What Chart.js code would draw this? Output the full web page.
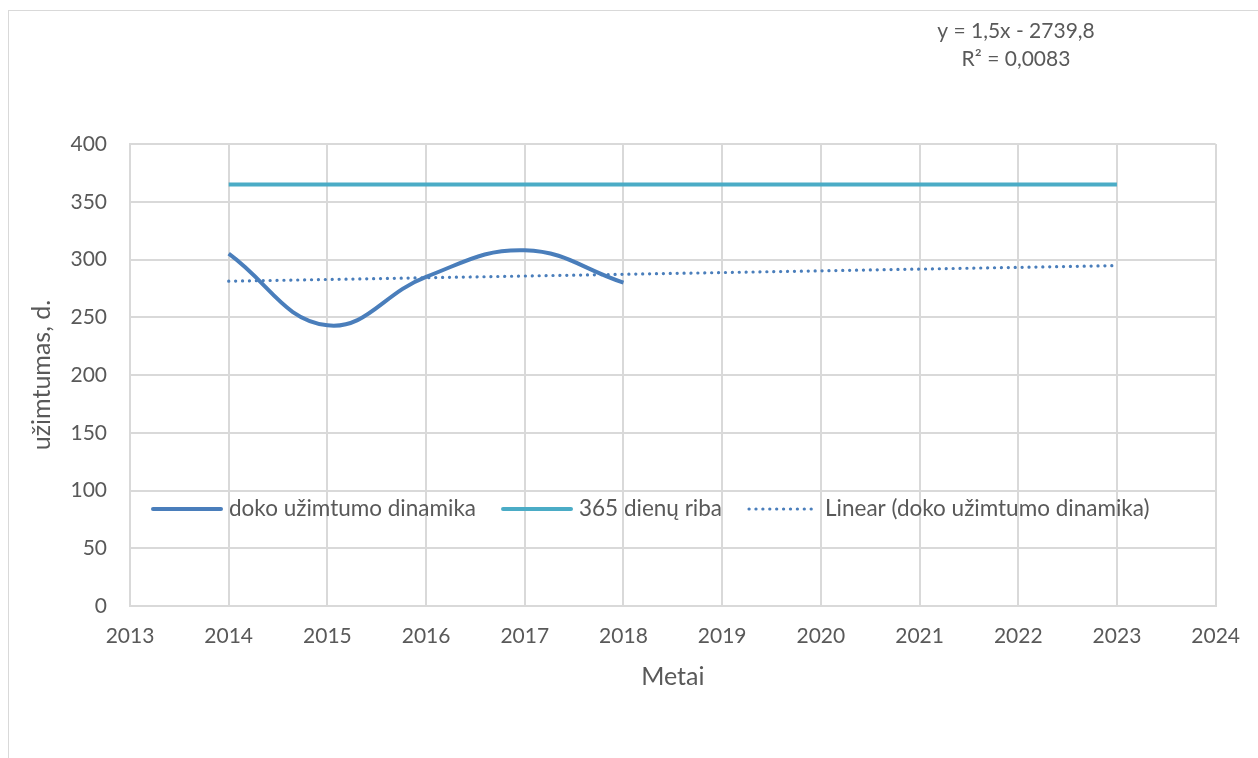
<!DOCTYPE html>
<html>
<head>
<meta charset="utf-8">
<script src="https://cdn.jsdelivr.net/npm/chart.js@4/dist/chart.umd.min.js"></script>
<style>
  html, body { margin: 0; padding: 0; background: #fff; }
  .wrap { position: relative; width: 1258px; height: 758px; overflow: hidden; }
  .frame { position: absolute; left: 8px; top: 10px; width: 1300px; height: 800px;
           border-left: 1px solid #d9d9d9; border-top: 1px solid #d9d9d9; }
  canvas { position: absolute; left: 0; top: 0; }
</style>
</head>
<body>
<div class="wrap">
  <div class="frame"></div>
  <canvas id="chart" width="1258" height="758"></canvas>
</div>
<script>
// dock occupancy per year
const years = [2014, 2015, 2016, 2017, 2018];
const occupancy = [305, 243, 285, 308, 280];

// 365 day limit line
const limitYears = [2014, 2023];
const limitValues = [365, 365];

// linear trend y = 1,5x - 2739,8 (end points)
const trendYears = [2014, 2023];
const trendValues = [281.2, 294.7];
const trendLabel = ['y = 1,5x - 2739,8', 'R² = 0,0083'];

const seriesNames = ['doko užimtumo dinamika', '365 dienų riba', 'Linear (doko užimtumo dinamika)'];

const FONT = 'Lato, "Open Sans", sans-serif';
const TEXT = '#595959';
const GRID = '#d9d9d9';

const toPoints = (xs, ys) => xs.map((x, i) => ({ x: x, y: ys[i] }));

// legend drawn inside the plot area, over the grid
const innerLegend = {
  id: 'innerLegend',
  afterDatasetsDraw(chart) {
    const ctx = chart.ctx;
    const y = chart.scales.y.getPixelForValue(84);
    let x = 153;
    ctx.save();
    ctx.font = '22.5px ' + FONT;
    ctx.textBaseline = 'middle';
    chart.data.datasets.forEach((ds) => {
      ctx.beginPath();
      ctx.strokeStyle = ds.borderColor;
      ctx.lineWidth = ds.borderWidth;
      ctx.lineCap = 'round';
      ctx.setLineDash(ds.borderDash || []);
      ctx.moveTo(x, y);
      ctx.lineTo(x + 68, y);
      ctx.stroke();
      ctx.setLineDash([]);
      x += 76;
      ctx.fillStyle = TEXT;
      ctx.fillText(ds.label, x, y);
      x += ctx.measureText(ds.label).width + 27;
    });
    ctx.restore();
  },
  afterDraw(chart) {
    const ctx = chart.ctx;
    ctx.save();
    ctx.font = '21px ' + FONT;
    ctx.fillStyle = TEXT;
    ctx.textAlign = 'center';
    ctx.textBaseline = 'middle';
    ctx.fillText(trendLabel[0], 1016, 31);
    ctx.fillText(trendLabel[1], 1016, 59);
    ctx.restore();
  }
};

new Chart(document.getElementById('chart'), {
  type: 'line',
  data: {
    datasets: [
      {
        label: seriesNames[0],
        data: toPoints(years, occupancy),
        borderColor: '#4a7ebb',
        borderWidth: 4,
        tension: 0.42,
        pointRadius: 0,
        order: 1
      },
      {
        label: seriesNames[1],
        data: toPoints(limitYears, limitValues),
        borderColor: '#4bacc6',
        borderWidth: 4,
        pointRadius: 0,
        order: 2
      },
      {
        label: seriesNames[2],
        data: toPoints(trendYears, trendValues),
        borderColor: '#4a7ebb',
        borderWidth: 3.2,
        borderDash: [0.1, 6.8],
        borderCapStyle: 'round',
        pointRadius: 0,
        order: 3
      }
    ]
  },
  options: {
    responsive: false,
    animation: false,
    layout: { padding: { left: 12, top: 144, right: 41, bottom: 0 } },
    plugins: {
      legend: { display: false },
      tooltip: { enabled: false }
    },
    scales: {
      x: {
        type: 'linear',
        min: 2013,
        max: 2024,
        ticks: {
          stepSize: 1,
          color: TEXT,
          font: { family: FONT, size: 21 },
          padding: 18,
          maxRotation: 0,
          callback: (v) => String(v)
        },
        grid: { color: GRID, lineWidth: 2, drawTicks: false },
        border: { color: GRID, width: 2 },
        title: {
          display: true,
          text: 'Metai',
          color: TEXT,
          font: { family: FONT, size: 25 },
          padding: { top: 0, bottom: 66 }
        },
        afterFit(scale) { scale.height = 152; }
      },
      y: {
        min: 0,
        max: 400,
        ticks: {
          stepSize: 50,
          color: TEXT,
          font: { family: FONT, size: 21 },
          padding: 23
        },
        grid: { color: GRID, lineWidth: 2, drawTicks: false },
        border: { color: GRID, width: 2 },
        title: {
          display: true,
          text: 'užimtumas, d.',
          color: TEXT,
          font: { family: FONT, size: 25 },
          padding: { top: 15, bottom: 0 }
        },
        afterFit(scale) { scale.width = 118; }
      }
    }
  },
  plugins: [innerLegend]
});
</script>
</body>
</html>
